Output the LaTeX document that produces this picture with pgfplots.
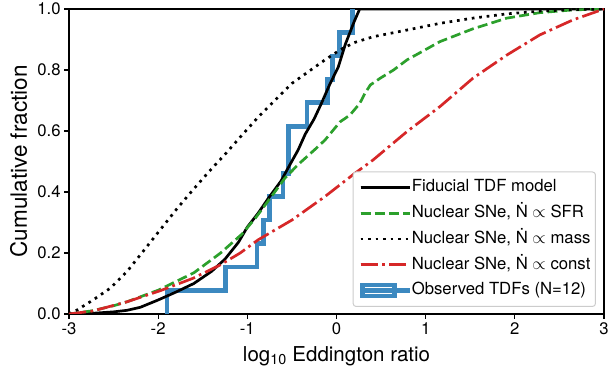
\documentclass[border=0pt]{standalone}
\usepackage{fontspec}
\setmainfont{TeX Gyre Heros}
\usepackage{pgfplots}
\pgfplotsset{compat=1.18}

\definecolor{tabgreen}{RGB}{44,160,44}
\definecolor{tabred}{RGB}{214,39,40}
\definecolor{histblue}{RGB}{60,137,192}

\pgfplotsset{
  linelegend/.style={legend image code/.code={\draw[##1, sharp corners] (0pt,0pt) -- (36pt,0pt); \path (0pt,0pt) -- (49pt,0pt);}},
  patchlegend/.style={legend image code/.code={\draw[##1, sharp corners, line join=miter, fill=white] (2.3pt,-5.5pt) rectangle (33.7pt,5.5pt); \path (0pt,0pt) -- (49pt,0pt);}},
}

\begin{document}
\begin{tikzpicture}
\begin{axis}[
  name=main,
  scale only axis, width=535pt, height=305pt,
  xmin=-3, xmax=3, ymin=0, ymax=1,
  xtick={-3,-2,-1,0,1,2,3},
  xticklabels={-3,-2,-1,0,1,2,3},
  ytick={0,0.2,0.4,0.6,0.8,1},
  yticklabels={0.0,0.2,0.4,0.6,0.8,1.0},
  tick align=outside, xtick pos=bottom, ytick pos=left,
  major tick length=4.9pt,
  major tick style={line width=1.1pt, black},
  axis line style={line width=1.1pt, black},
  tick label style={font=\fontsize{16.7}{20}\selectfont},
  xlabel={log\textsubscript{10} Eddington ratio},
  ylabel={Cumulative fraction},
  xlabel style={font=\fontsize{20.5}{24}\selectfont, at={(axis description cs:0.5,-0.157)}, anchor=base},
  ylabel style={font=\fontsize{22.5}{26}\selectfont, at={(axis description cs:-0.0785,0.5)}, anchor=base},
  legend cell align=left,
  legend style={at={(axis description cs:0.985,0.023)}, anchor=south east,
    font=\fontsize{16.7}{20}\selectfont,
    draw=black!20, line width=1pt, rounded corners=3pt, fill=white,
    inner xsep=5pt, inner ysep=8pt, row sep=10.2pt,
    nodes={inner sep=0pt, text height=12pt, text depth=3.5pt}},
  linelegend,
]

% observed TDFs (cumulative step histogram, N=12)
\addplot[histblue, line width=4.7pt, line join=miter, const plot mark left, forget plot] coordinates {
  (-1.90,0) (-1.90,0.0769) (-1.247,0.1538) (-0.890,0.2308) (-0.820,0.3077)
  (-0.755,0.3846) (-0.600,0.4615) (-0.536,0.6154) (-0.330,0.6923)
  (-0.104,0.7692) (-0.041,0.8462) (0.034,0.9231) (0.176,1.0)
};

% fiducial TDF model
\addplot[black, line width=2.7pt] coordinates {
  (-3,0) (-2.75,0.002) (-2.5,0.007) (-2.35,0.012) (-2.2,0.022) (-2.0,0.046)
  (-1.8,0.072) (-1.6,0.10) (-1.4,0.14) (-1.25,0.18) (-1.1,0.235) (-1.0,0.285)
  (-0.88,0.33) (-0.77,0.377) (-0.62,0.437) (-0.55,0.475) (-0.43,0.538)
  (-0.35,0.59) (-0.25,0.64) (-0.17,0.69) (-0.08,0.75) (0.02,0.81) (0.1,0.885)
  (0.2,0.96) (0.26,1.0) (3,1.0)
};
\addlegendentry{Fiducial TDF model}

% SFR
\addplot[tabgreen, line width=2.7pt, dash pattern=on 10pt off 4.3pt] coordinates {
  (-3,0) (-2.75,0.01) (-2.5,0.027) (-2.35,0.04) (-2.0,0.078) (-1.6,0.135)
  (-1.3,0.2) (-1.06,0.262) (-0.9,0.318) (-0.73,0.385) (-0.58,0.445)
  (-0.43,0.49) (-0.24,0.54) (-0.13,0.57) (0.04,0.63) (0.15,0.652) (0.26,0.69)
  (0.32,0.724) (0.38,0.751) (0.49,0.773) (0.64,0.80) (0.79,0.833) (1.16,0.893)
  (1.53,0.935) (1.91,0.97) (2.28,0.988) (2.65,0.997) (3,1.0)
};
\addlegendentry{Nuclear SNe, \.{N} $\propto$ SFR}

% mass
\addplot[black, line width=2.7pt, dash pattern=on 2.7pt off 4.8pt] coordinates {
  (-3,0) (-2.91,0.013) (-2.73,0.046) (-2.54,0.084) (-2.35,0.139) (-2.17,0.205)
  (-1.98,0.275) (-1.79,0.345) (-1.61,0.407) (-1.42,0.47) (-1.23,0.53)
  (-1.08,0.58) (-0.88,0.645) (-0.5,0.756) (-0.13,0.833) (0.04,0.866)
  (0.2,0.89) (0.41,0.909) (0.79,0.931) (1.16,0.953) (1.53,0.97) (1.91,0.984)
  (2.28,0.993) (2.65,0.998) (3,1.0)
};
\addlegendentry{Nuclear SNe, \.{N} $\propto$ mass}

% const
\addplot[tabred, line width=2.7pt, dash pattern=on 17.3pt off 4.3pt on 2.7pt off 4.3pt] coordinates {
  (-3,0) (-2.73,0.01) (-2.35,0.04) (-1.98,0.076) (-1.61,0.117) (-1.31,0.16)
  (-1.08,0.2) (-0.88,0.243) (-0.5,0.308) (-0.13,0.385) (0.2,0.46) (0.41,0.505)
  (0.79,0.598) (1.16,0.68) (1.53,0.773) (1.91,0.849) (2.28,0.915) (2.65,0.964)
  (3,1.0)
};
\addlegendentry{Nuclear SNe, \.{N} $\propto$ const}

\addlegendimage{histblue, line width=4.7pt, patchlegend}
\addlegendentry{Observed TDFs (N=12)}

\end{axis}
\pgfresetboundingbox
\path[use as bounding box] ([xshift=-69pt,yshift=-57pt]main.south west) rectangle ([xshift=4pt,yshift=9pt]main.north east);
\end{tikzpicture}
\end{document}
